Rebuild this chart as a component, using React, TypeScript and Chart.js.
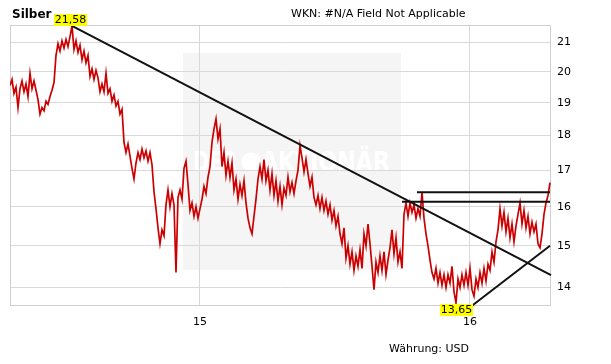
import React, { useEffect, useRef } from "react";
import { Chart, registerables } from "chart.js";

Chart.register(...registerables);

const TITLE = "Silber";
const SUBTITLE = "WKN: #N/A Field Not Applicable";
const CURRENCY = "Währung: USD";
const WATERMARK_LEFT = "DER";
const WATERMARK_RIGHT = "AKTIONÄR";

// decimal year of the first observation and spacing between observations
const FIRST_DATE = 2014.2963;
const DATE_STEP = 0.0074074;

// silver price (USD)
const silverPrices = [
  19.55, 19.75, 19.3, 19.5, 18.85, 19.45, 19.7, 19.35, 19.6, 19.2,
  19.95, 19.45, 19.7, 19.4, 19.1, 18.65, 18.85, 18.75, 19.05, 18.95,
  19.2, 19.4, 19.65, 20.55, 20.95, 20.7, 21.05, 20.8, 21.1, 20.85,
  21.2, 21.58, 20.75, 21.05, 20.65, 20.9, 20.4, 20.7, 20.3, 20.55,
  19.85, 20.1, 19.75, 20.05, 19.8, 19.35, 19.6, 19.35, 19.95, 19.3,
  19.45, 19.05, 19.25, 18.9, 19.05, 18.65, 18.8, 17.8, 17.5, 17.75,
  17.4, 17.05, 16.75, 17.2, 17.5, 17.3, 17.6, 17.35, 17.55, 17.25,
  17.5, 17.15, 16.4, 15.95, 15.45, 15.05, 15.4, 15.25, 16.05, 16.45,
  16.0, 16.35, 16.05, 14.35, 16.25, 16.45, 16.2, 17.05, 17.25, 16.6,
  15.9, 16.1, 15.75, 16.0, 15.7, 15.95, 16.2, 16.55, 16.35, 16.8,
  17.1, 17.8, 18.2, 18.5, 17.9, 18.2, 17.1, 17.5, 16.85, 17.25,
  16.8, 17.2, 16.45, 16.75, 16.2, 16.6, 16.3, 16.7, 16.1, 15.7,
  15.45, 15.3, 15.75, 16.2, 16.75, 17.1, 16.75, 17.3, 16.7, 17.0,
  16.45, 16.9, 16.3, 16.7, 16.15, 16.55, 16.05, 16.5, 16.3, 16.8,
  16.4, 16.65, 16.35, 16.7, 17.0, 17.7, 17.35, 16.95, 17.3, 16.9,
  16.55, 16.8, 16.25, 16.05, 16.3, 15.95, 16.25, 15.9, 16.15, 15.8,
  16.05, 15.65, 15.9, 15.5, 15.75, 15.3, 15.05, 15.45, 14.7, 15.0,
  14.55, 14.85, 14.4, 14.75, 14.5, 14.9, 14.45, 15.3, 15.0, 15.55,
  15.05, 14.5, 13.95, 14.6, 14.35, 14.75, 14.4, 14.85, 14.3, 14.65,
  14.95, 15.4, 14.8, 15.2, 14.6, 14.85, 14.45, 15.8, 16.1, 15.75,
  16.1, 15.85, 16.05, 15.7, 15.95, 15.75, 16.38, 15.7, 15.3, 15.0,
  14.65, 14.35, 14.2, 14.45, 14.1, 14.35, 14.05, 14.3, 14.0, 14.3,
  14.1, 14.5, 13.9, 13.65, 14.2, 14.0, 14.3, 14.05, 14.35, 14.05,
  14.45, 13.95, 13.8, 14.2, 14.0, 14.35, 14.1, 14.45, 14.15, 14.55,
  14.4, 14.85, 14.6, 15.1, 15.4, 15.95, 15.5, 15.85, 15.35, 15.7,
  15.2, 15.55, 15.1, 15.5, 15.8, 16.1, 15.55, 15.9, 15.45, 15.75,
  15.3, 15.6, 15.35, 15.55, 15.05, 14.95, 15.3, 15.8, 16.1, 16.3,
  16.65,
];

// trend lines as [decimal year, price]
const downTrend = [[2014.5259, 21.58], [2016.3, 14.29]];
const upTrend = [[2016.0, 13.55], [2016.2963, 15.0]];
const resistanceHigh = [[2015.8037, 16.39], [2016.2963, 16.39]];
const resistanceLow = [[2015.7481, 16.13], [2016.2963, 16.13]];

const xTickValues = [2015, 2016];
const xTickLabels = ["15", "16"];
const yTickValues = [14, 15, 16, 17, 18, 19, 20, 21];
const yTickLabels = ["14", "15", "16", "17", "18", "19", "20", "21"];

const X_MIN = 2014.2963;
const X_MAX = 2016.3;
const Y_MIN = 13.62;
const Y_MAX = 21.61;

const FONT = '"DejaVu Sans", Verdana, sans-serif';

function fitText(ctx: CanvasRenderingContext2D, text: string, x: number, y: number, width: number) {
  const w = ctx.measureText(text).width;
  ctx.save();
  ctx.translate(x, y);
  ctx.scale(width / w, 1);
  ctx.fillText(text, 0, 0);
  ctx.restore();
}

function tag(ctx: CanvasRenderingContext2D, text: string, cx: number, yTop: number) {
  ctx.save();
  ctx.font = "11px " + FONT;
  const w = Math.round(ctx.measureText(text).width + 2);
  const h = 12;
  const x0 = Math.round(cx - w / 2);
  ctx.fillStyle = "#ffff00";
  ctx.fillRect(x0, yTop, w, h);
  ctx.fillStyle = "#000";
  ctx.textAlign = "center";
  ctx.textBaseline = "middle";
  ctx.fillText(text, x0 + w / 2, yTop + h / 2 + 0.5);
  ctx.restore();
}

const fmt = (v: number) => v.toFixed(2).replace(".", ",");

const decorPlugin = {
  id: "decor",
  beforeDraw(chart: any) {
    const ctx: CanvasRenderingContext2D = chart.ctx;
    ctx.save();
    ctx.fillStyle = "#ffffff";
    ctx.fillRect(0, 0, chart.width, chart.height);
    ctx.fillStyle = "#f5f5f5";
    ctx.fillRect(183, 53, 218, 217);
    ctx.fillStyle = "#ffffff";
    ctx.font = "bold 26px " + FONT;
    ctx.textBaseline = "alphabetic";
    fitText(ctx, WATERMARK_LEFT, 193, 171, 44);
    ctx.beginPath();
    ctx.arc(251, 162, 9.5, 0, Math.PI * 2);
    ctx.fill();
    fitText(ctx, WATERMARK_RIGHT, 261, 171, 129);
    ctx.restore();
  },
  beforeDatasetsDraw(chart: any) {
    const ctx: CanvasRenderingContext2D = chart.ctx;
    const { left, top, right, bottom } = chart.chartArea;
    ctx.save();
    ctx.strokeStyle = "#d0d0d0";
    ctx.lineWidth = 1;
    ctx.strokeRect(left + 0.5, top + 0.5, right - left - 1, bottom - top);
    ctx.restore();
  },
  afterDatasetsDraw(chart: any) {
    const ctx: CanvasRenderingContext2D = chart.ctx;
    const xs = chart.scales.x;
    const ys = chart.scales.y;
    let iMax = 0;
    let iMin = 0;
    silverPrices.forEach((v, i) => {
      if (v > silverPrices[iMax]) iMax = i;
      if (v < silverPrices[iMin]) iMin = i;
    });
    const pxMax = xs.getPixelForValue(FIRST_DATE + iMax * DATE_STEP);
    const pyMax = ys.getPixelForValue(silverPrices[iMax]);
    const pxMin = xs.getPixelForValue(FIRST_DATE + iMin * DATE_STEP);
    const pyMin = ys.getPixelForValue(silverPrices[iMin]);
    tag(ctx, fmt(silverPrices[iMax]), pxMax - 1.5, Math.round(pyMax) - 12);
    tag(ctx, fmt(silverPrices[iMin]), pxMin, Math.round(pyMin) + 1);
  },
  afterDraw(chart: any) {
    const ctx: CanvasRenderingContext2D = chart.ctx;
    ctx.save();
    ctx.fillStyle = "#000";
    ctx.textBaseline = "alphabetic";
    ctx.textAlign = "left";
    ctx.font = "bold 12px " + FONT;
    ctx.fillText(TITLE, 12, 18);
    ctx.font = "11px " + FONT;
    ctx.fillText(SUBTITLE, 291, 17);
    ctx.fillText(CURRENCY, 389, 352);
    ctx.restore();
  },
};

const toPoints = (arr: number[][]) => arr.map(([x, y]) => ({ x, y }));

export default function App() {
  const ref = useRef<HTMLCanvasElement | null>(null);
  useEffect(() => {
    if (!ref.current) return;
    const lineStyle = {
      borderColor: "#111111",
      borderWidth: 2,
      pointRadius: 0,
      tension: 0,
      clip: false as any,
      order: 1,
    };
    const chart = new Chart(ref.current, {
      type: "line",
      data: {
        datasets: [
          {
            label: "Silber",
            data: silverPrices.map((y, i) => ({ x: FIRST_DATE + i * DATE_STEP, y })),
            borderColor: "#cc0000",
            borderWidth: 1.7,
            pointRadius: 0,
            tension: 0,
            order: 2,
          },
          { label: "down", data: toPoints(downTrend), ...lineStyle },
          { label: "up", data: toPoints(upTrend), ...lineStyle },
          { label: "resHigh", data: toPoints(resistanceHigh), ...lineStyle },
          { label: "resLow", data: toPoints(resistanceLow), ...lineStyle },
        ],
      },
      options: {
        responsive: false,
        devicePixelRatio: 1,
        animation: false,
        events: [],
        layout: { padding: { left: 10, top: 25, right: 0, bottom: 0 } },
        plugins: { legend: { display: false }, tooltip: { enabled: false }, title: { display: false } },
        scales: {
          x: {
            type: "linear",
            min: X_MIN,
            max: X_MAX,
            afterBuildTicks: (s: any) => {
              s.ticks = xTickValues.map((v) => ({ value: v }));
            },
            afterFit: (s: any) => {
              s.height = 59;
            },
            grid: { color: "#d9d9d9", drawTicks: false },
            border: { display: false },
            ticks: {
              padding: 11,
              maxRotation: 0,
              autoSkip: false,
              color: "#000",
              font: { size: 11, family: FONT },
              callback: (_v: any, i: number) => xTickLabels[i],
            },
          },
          y: {
            type: "logarithmic",
            position: "right",
            min: Y_MIN,
            max: Y_MAX,
            afterBuildTicks: (s: any) => {
              s.ticks = yTickValues.map((v) => ({ value: v }));
            },
            afterFit: (s: any) => {
              s.width = 60;
            },
            grid: { color: "#d9d9d9", drawTicks: false },
            border: { display: false },
            ticks: {
              padding: 6,
              autoSkip: false,
              color: "#000",
              font: { size: 11, family: FONT },
              callback: (_v: any, i: number) => yTickLabels[i],
            },
          },
        },
      },
      plugins: [decorPlugin],
    });
    return () => chart.destroy();
  }, []);
  return (
    <div style={{ position: "fixed", left: 0, top: 0, width: 611, height: 364, background: "#fff" }}>
      <canvas ref={ref} width={611} height={364} style={{ display: "block", width: 611, height: 364 }} />
    </div>
  );
}
